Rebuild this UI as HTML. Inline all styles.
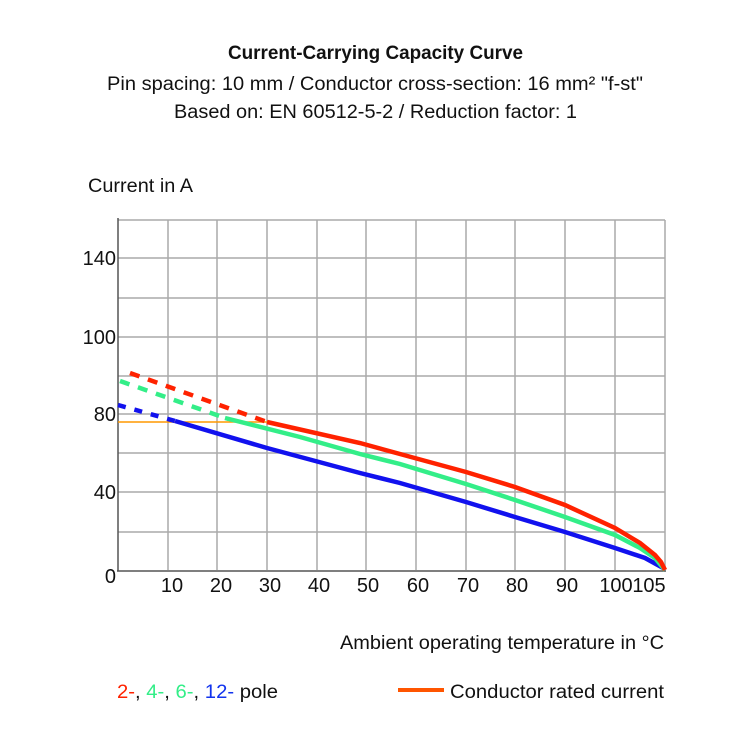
<!DOCTYPE html>
<html><head><meta charset="utf-8"><style>html,body{margin:0;padding:0;background:#fff}svg{display:block}</style></head>
<body>
<svg width="750" height="750" viewBox="0 0 750 750" xmlns="http://www.w3.org/2000/svg" font-family="Liberation Sans, sans-serif" fill="#111">
<text x="228" y="59" font-size="19" font-weight="bold" textLength="295" lengthAdjust="spacingAndGlyphs">Current-Carrying Capacity Curve</text>
<text x="107" y="90" font-size="19" textLength="536" lengthAdjust="spacingAndGlyphs">Pin spacing: 10 mm / Conductor cross-section: 16 mm² "f-st"</text>
<text x="174" y="118" font-size="19" textLength="403" lengthAdjust="spacingAndGlyphs">Based on: EN 60512-5-2 / Reduction factor: 1</text>
<text x="88" y="192" font-size="19" textLength="105" lengthAdjust="spacingAndGlyphs">Current in A</text>
<g stroke="#aaa" stroke-width="1.5">
<line x1="118" y1="220" x2="665" y2="220"/>
<line x1="118" y1="258" x2="665" y2="258"/>
<line x1="118" y1="298" x2="665" y2="298"/>
<line x1="118" y1="337" x2="665" y2="337"/>
<line x1="118" y1="376" x2="665" y2="376"/>
<line x1="118" y1="414" x2="665" y2="414"/>
<line x1="118" y1="453" x2="665" y2="453"/>
<line x1="118" y1="492" x2="665" y2="492"/>
<line x1="118" y1="532" x2="665" y2="532"/>
<line x1="168" y1="220" x2="168" y2="570"/>
<line x1="217" y1="220" x2="217" y2="570"/>
<line x1="267" y1="220" x2="267" y2="570"/>
<line x1="317" y1="220" x2="317" y2="570"/>
<line x1="366" y1="220" x2="366" y2="570"/>
<line x1="416" y1="220" x2="416" y2="570"/>
<line x1="466" y1="220" x2="466" y2="570"/>
<line x1="515" y1="220" x2="515" y2="570"/>
<line x1="565" y1="220" x2="565" y2="570"/>
<line x1="615" y1="220" x2="615" y2="570"/>
<line x1="665" y1="220" x2="665" y2="570"/>
</g>
<g stroke="#555" stroke-width="1.5">
<line x1="118" y1="218" x2="118" y2="571"/>
<line x1="117" y1="571" x2="666" y2="571"/>
</g>
<g font-size="20" text-anchor="end">
<text x="116" y="265">140</text>
<text x="116" y="344">100</text>
<text x="116" y="421">80</text>
<text x="116" y="499">40</text>
<text x="116" y="583">0</text>
</g>
<g font-size="20" text-anchor="middle">
<text x="172" y="592">10</text><text x="221" y="592">20</text><text x="270" y="592">30</text>
<text x="319" y="592">40</text><text x="368" y="592">50</text><text x="418" y="592">60</text>
<text x="468" y="592">70</text><text x="517" y="592">80</text><text x="567" y="592">90</text>
<text x="616" y="592">100</text><text x="649" y="592">105</text>
</g>
<line x1="118" y1="422" x2="268" y2="422" stroke="#ff9900" stroke-width="1.5"/>
<g fill="none" stroke-width="4.5">
<path d="M130,373 L267,422" stroke="#ff2200" stroke-dasharray="10,9"/>
<path d="M120,381 L228,419" stroke="#33ee88" stroke-dasharray="10,9"/>
<path d="M118,405 L175,421" stroke="#1111ee" stroke-dasharray="8,9"/>
<path d="M175,421 L267,448 L360,473 L400,483 L466,502 L515,517 L565,532 L615,548 L645,558 L665,569" stroke="#1111ee"/>
<path d="M225,418 L300,437 L360,454 L400,464 L466,484 L515,500 L565,517 L615,535 L640,548 L655,558 L665,570" stroke="#33ee88"/>
<path d="M267,422 L360,443 L400,454 L466,472 L515,487 L565,505 L615,528 L640,543 L655,555 L661,562 L665,570" stroke="#ff2200"/>
</g>
<text x="340" y="649" font-size="19" textLength="324" lengthAdjust="spacingAndGlyphs">Ambient operating temperature in °C</text>
<text x="117" y="698" font-size="19" textLength="161" lengthAdjust="spacingAndGlyphs"><tspan fill="#ff2200">2-</tspan>, <tspan fill="#33ee88">4-</tspan>, <tspan fill="#33ee88">6-</tspan>, <tspan fill="#1133ee">12-</tspan> pole</text>
<line x1="398" y1="690" x2="444" y2="690" stroke="#ff5500" stroke-width="4"/>
<text x="450" y="698" font-size="19" textLength="214" lengthAdjust="spacingAndGlyphs">Conductor rated current</text>
</svg>
</body></html>
